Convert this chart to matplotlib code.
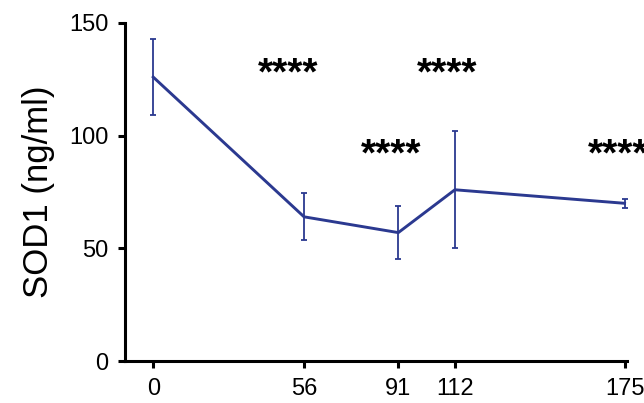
import matplotlib
matplotlib.use("Agg")
from matplotlib import pyplot as plt

days = [0, 56, 91, 112, 175]
sod1 = [126, 64, 57, 76, 70]
sod1_err = [17, 10.5, 11.7, 26, 2]

# the last label runs past the right edge, as it does in the source figure
star_labels = ["****", "****", "****", "****"]
star_x = [50, 109, 88.5, 172.5]
star_y = [127, 127, 91, 91]

LINE_COLOR = "#2b3990"

plt.rcParams["font.family"] = ["Liberation Sans", "DejaVu Sans"]

fig = plt.figure(figsize=(6.44, 4.03), dpi=100)
ax = fig.add_axes([0.194, 0.104, 0.780, 0.839])

ax.errorbar(days, sod1, yerr=sod1_err, color=LINE_COLOR, linewidth=2.1,
            elinewidth=1.3, capsize=2.0, capthick=1.3)

for label, x, y in zip(star_labels, star_x, star_y):
    ax.text(x, y, label, ha="center", va="center", fontsize=28,
            fontweight="bold", clip_on=False)

ax.set_xlim(-10.5, 176)
ax.set_ylim(0, 150)
ax.set_xticks(days)
ax.set_yticks([0, 50, 100, 150])
ax.set_ylabel("SOD1 (ng/ml)", fontsize=25, labelpad=10)

for side in ["top", "right"]:
    ax.spines[side].set_visible(False)
for side in ["left", "bottom"]:
    ax.spines[side].set_linewidth(2.2)
ax.tick_params(width=2.2, length=5, labelsize=17, pad=7)

fig.savefig("out.png", dpi=100)
